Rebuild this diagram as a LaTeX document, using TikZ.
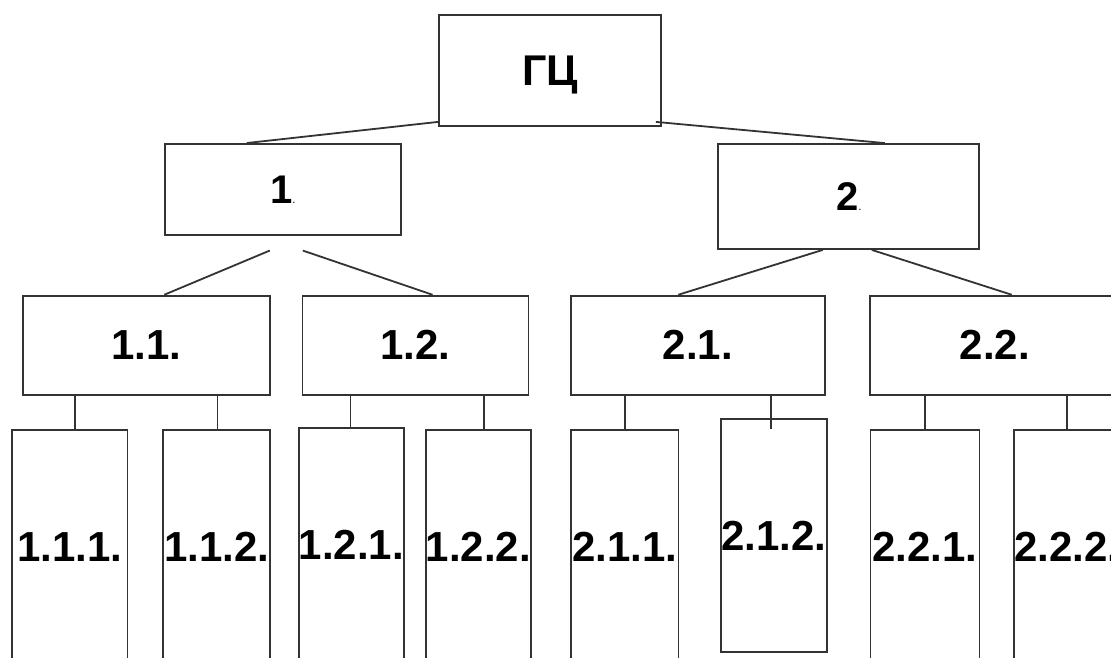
\documentclass[tikz,border=0pt]{standalone}
\usepackage{fontspec}
\setmainfont{Liberation Sans}

\tikzset{
	box/.style={draw=black!80, line width=1.8pt, inner sep=0pt, fill=white, font=\bfseries\fontsize{42}{42}\selectfont},
	midbox/.style={box, minimum height=99.3pt},
	leafbox/.style={box, minimum height=234pt},
	link/.style={draw=black!80, line width=1.8pt},
}

\begin{document}
\begin{tikzpicture}[x=1pt, y=-1pt]
	\newcommand{\smalldot}{{\fontsize{8}{8}\selectfont.}}
	\clip (0,0) rectangle (1111,658);
	\fill[white] (0,0) rectangle (1111,658);
	% top level
	\node[box, minimum width=222pt, minimum height=111pt, text depth=0pt, font=\bfseries\fontsize{43}{43}\selectfont](GC) at (550,70.5){ГЦ};
	\node[box, minimum width=235.7pt, minimum height=90.7pt, font=\bfseries\fontsize{40}{40}\selectfont](N1) at (282.8,189.3){1\smalldot};
	\node[box, minimum width=261pt, minimum height=105pt, font=\bfseries\fontsize{40}{40}\selectfont](N2) at (848.8,196.5){2\smalldot};
	% second level
	\node[midbox, minimum width=247.3pt](N11) at (146.3,345.3){1.1.};
	\node[midbox, minimum width=226pt](N12) at (415.5,345.3){1.2.};
	\node[midbox, minimum width=253.7pt](N21) at (697.8,345.3){2.1.};
	\node[midbox, minimum width=248.7pt](N22) at (994.7,345.3){2.2.};
	% third level
	\node[leafbox, minimum width=115.7pt](N111) at (69.7,547){1.1.1.};
	\node[leafbox, minimum width=107.5pt](N112) at (216.6,547){1.1.2.};
	\node[leafbox, minimum width=95.4pt](N121) at (351.3,545){1.2.1.};
	\node[leafbox, minimum width=100.7pt](N122) at (478.3,547){1.2.2.};
	\node[leafbox, minimum width=107.4pt](N211) at (624.7,547){2.1.1.};
	\node[leafbox, minimum width=105.7pt, minimum height=232.7pt](N212) at (773.9,535.4){2.1.2.};
	\node[leafbox, minimum width=109pt](N221) at (924.9,547){2.2.1.};
	\node[leafbox, minimum width=106pt](N222) at (1067,547){2.2.2.};
	\draw[link] ([yshift=5pt]GC.south west) -- ([xshift=-36pt]N1.north);
	\draw[link] ([xshift=-6pt, yshift=5pt]GC.south east) -- ([xshift=36pt]N2.north);
	\draw[link] ([xshift=-13pt, yshift=-15pt]N1.south) -- ([xshift=18pt]N11.north);
	\draw[link] ([xshift=20pt, yshift=-15pt]N1.south) -- ([xshift=17pt]N12.north);
	\draw[link] ([xshift=-26pt]N2.south) -- ([xshift=-19.5pt]N21.north);
	\draw[link] ([xshift=23pt]N2.south) -- ([xshift=17pt]N22.north);
	\draw[link] ([xshift=5.6pt]N111.north |- N11.south) -- ([xshift=5.6pt]N111.north);
	\draw[link] ([xshift=0.8pt]N112.north |- N11.south) -- ([xshift=0.8pt]N112.north);
	\draw[link] ([xshift=-0.9pt]N121.north |- N12.south) -- ([xshift=-0.9pt, yshift=-2pt]N121.north);
	\draw[link] ([xshift=5.3pt]N122.north |- N12.south) -- ([xshift=5.3pt]N122.north);
	\draw[link] (N211.north |- N21.south) -- (N211.north);
	\draw[link] ([xshift=-3.3pt]N212.north |- N21.south) -- ([xshift=-3.3pt, yshift=-11pt]N212.north);
	\draw[link] (N221.north |- N22.south) -- (N221.north);
	\draw[link] (N222.north |- N22.south) -- (N222.north);
\end{tikzpicture}
\end{document}
